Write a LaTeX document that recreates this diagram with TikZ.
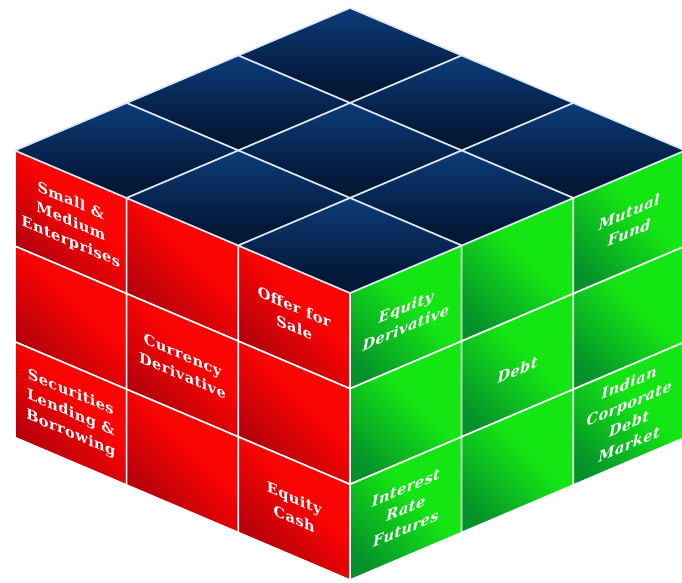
\documentclass[tikz,border=0pt]{standalone}
\usepackage{fontspec}
\setmainfont{DejaVu Serif}
\newfontfamily\lblfont[LetterSpace=3]{DejaVu Serif}
\definecolor{rbright}{HTML}{FA0404}
\definecolor{rdark}{HTML}{A0000E}
\definecolor{gbright}{HTML}{14E614}
\definecolor{gdark}{HTML}{04902A}
\definecolor{tlight}{HTML}{0D3F80}
\definecolor{tdark}{HTML}{041838}
\definecolor{tline}{HTML}{DCE8F4}
\pgfdeclareverticalshading{redsh}{100bp}{color(0bp)=(rdark); color(22bp)=(rdark); color(56bp)=(rbright); color(100bp)=(rbright)}
\pgfdeclareverticalshading{greensh}{100bp}{color(0bp)=(gdark); color(22bp)=(gdark); color(56bp)=(gbright); color(100bp)=(gbright)}
\pgfdeclareverticalshading{topsh}{100bp}{color(0bp)=(tdark); color(35bp)=(tdark); color(78bp)=(tlight); color(100bp)=(tlight)}
\begin{document}
\begin{tikzpicture}[x=1pt,y=1pt,
  redcell/.style={shade, shading=redsh, shading angle=-45, draw=white, line width=1.6pt, line join=round},
  greencell/.style={shade, shading=greensh, shading angle=-45, draw=white, line width=1.6pt, line join=round},
  topcell/.style={shade, shading=topsh, draw=tline, line width=1.6pt, line join=round},
  lbl/.style={text=white, align=center, inner sep=0pt, font=\lblfont\bfseries\fontsize{14.5}{20.5}\selectfont},
  redlbl/.style={lbl, yslant=-0.425},
  greenlbl/.style={lbl, yslant=0.425, font=\lblfont\bfseries\itshape\fontsize{14.5}{20.5}\selectfont}]
\useasboundingbox (0,0) rectangle (682,583);
\clip (0,0) rectangle (682,583);
% left (red) face
\foreach \i in {0,1,2}{\foreach \j in {0,1,2}{
  \path[redcell] ({15+\i*111.667},{432.5-\i*47.5-\j*95.667}) -- ++(111.667,-47.5) -- ++(0,-95.667) -- ++(-111.667,47.5) -- cycle;
}}
% right (green) face
\foreach \i in {0,1,2}{\foreach \j in {0,1,2}{
  \path[greencell] ({350+\i*111.667},{290+\i*47.5-\j*95.667}) -- ++(111.667,47.5) -- ++(0,-95.667) -- ++(-111.667,-47.5) -- cycle;
}}
% top (blue) face
\foreach \i in {0,1,2}{\foreach \j in {0,1,2}{
  \path[topcell] ({350-\i*111.667+\j*111.667},{575-\i*47.5-\j*47.5}) -- ++(-111.667,-47.5) -- ++(111.667,-47.5) -- ++(111.667,47.5) -- cycle;
}}
% labels on red face
\node[redlbl] (sme) at (70.8,360.9) {Small \&\\Medium\\Enterprises};
\node[redlbl] (cur) at (182.5,217.8) {Currency\\Derivative};
\node[redlbl] (ofs) at (294.2,265.9) {Offer for\\Sale};
\node[redlbl] (slb) at (70.8,169.6) {Securities\\Lending \&\\Borrowing};
\node[redlbl] (eqc) at (294.2,74.6) {Equity\\Cash};
% labels on green face
\node[greenlbl] (eqd) at (405.8,265.9) {Equity\\Derivative};
\node[greenlbl] (debt) at (517.5,213) {Debt};
\node[greenlbl] (mf) at (629.2,360.9) {Mutual\\Fund};
\node[greenlbl] (icdm) at (629.2,169.6) {Indian\\Corporate\\Debt\\Market};
\node[greenlbl] (irf) at (405.8,74.6) {Interest\\Rate\\Futures};
\end{tikzpicture}
\end{document}
